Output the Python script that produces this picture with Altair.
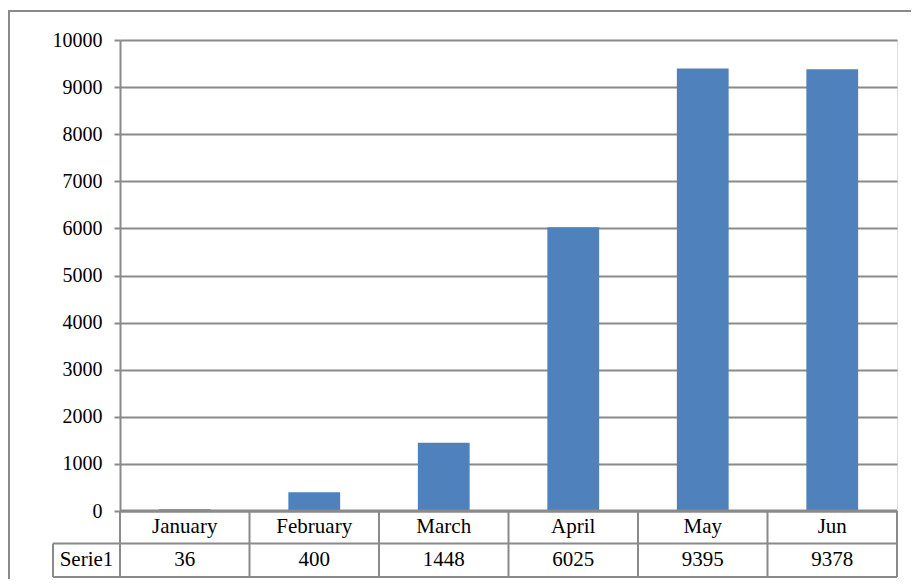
import altair as alt
import pandas as pd

months = ["January", "February", "March", "April", "May", "Jun"]
values = [36, 400, 1448, 6025, 9395, 9378]
series_name = "Serie1"
y_ticks = list(range(0, 10001, 1000))

df = pd.DataFrame({"month": months, "value": values})
one = pd.DataFrame({"k": [0]})

W, H = 777, 471
ROW1 = 503.5
ROW2 = 537
LEFT = -67
GRAY = "#8a8a8a"
FONT = "Liberation Serif"
FS = 21
AFS = 20

base = alt.Chart(df)

bars = base.mark_bar(color="#4f81bd").encode(
    x=alt.X("month:N", sort=months, axis=None,
            scale=alt.Scale(paddingInner=0.6, paddingOuter=0.3)),
    y=alt.Y("value:Q", scale=alt.Scale(domain=[0, 10000]),
            axis=alt.Axis(values=y_ticks, format="d", title=None, grid=True, gridColor=GRAY,
                          gridWidth=2, domainColor=GRAY, domainWidth=2,
                          tickColor=GRAY, tickWidth=2, tickSize=6,
                          labelFont=FONT, labelFontSize=AFS, labelColor="#000",
                          labelPadding=12)),
)

tx = alt.X("month:N", sort=months, axis=None,
           scale=alt.Scale(paddingInner=0, paddingOuter=0))

cat_text = base.mark_text(font=FONT, fontSize=FS, color="#000", baseline="middle").encode(
    x=tx, y=alt.value(487), text="month:N")
val_text = base.mark_text(font=FONT, fontSize=FS, color="#000", baseline="middle").encode(
    x=tx, y=alt.value(520), text="value:Q")

vlines = base.mark_rule(color=GRAY, strokeWidth=2).encode(
    x=alt.X("month:N", sort=months, axis=None, bandPosition=0,
            scale=alt.Scale(paddingInner=0, paddingOuter=0)),
    y=alt.value(H), y2=alt.value(ROW2))

tbl = alt.Chart(one)
right_v = tbl.mark_rule(color=GRAY, strokeWidth=2).encode(
    x=alt.value(W), y=alt.value(H), y2=alt.value(ROW2))
left_v = tbl.mark_rule(color=GRAY, strokeWidth=2).encode(
    x=alt.value(LEFT), y=alt.value(ROW1), y2=alt.value(ROW2))
h1 = tbl.mark_rule(color=GRAY, strokeWidth=3).encode(
    x=alt.value(0), x2=alt.value(W), y=alt.value(H))
h2 = tbl.mark_rule(color=GRAY, strokeWidth=2).encode(
    x=alt.value(LEFT), x2=alt.value(W), y=alt.value(ROW1))
h3 = tbl.mark_rule(color=GRAY, strokeWidth=2).encode(
    x=alt.value(LEFT), x2=alt.value(W), y=alt.value(ROW2))
serie = tbl.mark_text(font=FONT, fontSize=FS, color="#000", baseline="middle").encode(
    x=alt.value(LEFT / 2), y=alt.value(520), text=alt.value(series_name))

border = tbl.mark_rect(fill=None, stroke=GRAY, strokeWidth=2).encode(
    x=alt.value(-111), y=alt.value(-29), x2=alt.value(W + 60), y2=alt.value(H + 120))

chart = alt.layer(
    border, bars, cat_text, val_text, vlines, right_v, left_v, h1, h2, h3, serie
).resolve_scale(x="independent").properties(
    width=W, height=H,
    autosize=alt.AutoSizeParams(type="none"),
    padding={"left": 112, "top": 32, "right": 14, "bottom": 68},
).configure_view(stroke=None).configure(background="white")

chart.save("out.html", embed_options={"renderer": "svg", "actions": False})
